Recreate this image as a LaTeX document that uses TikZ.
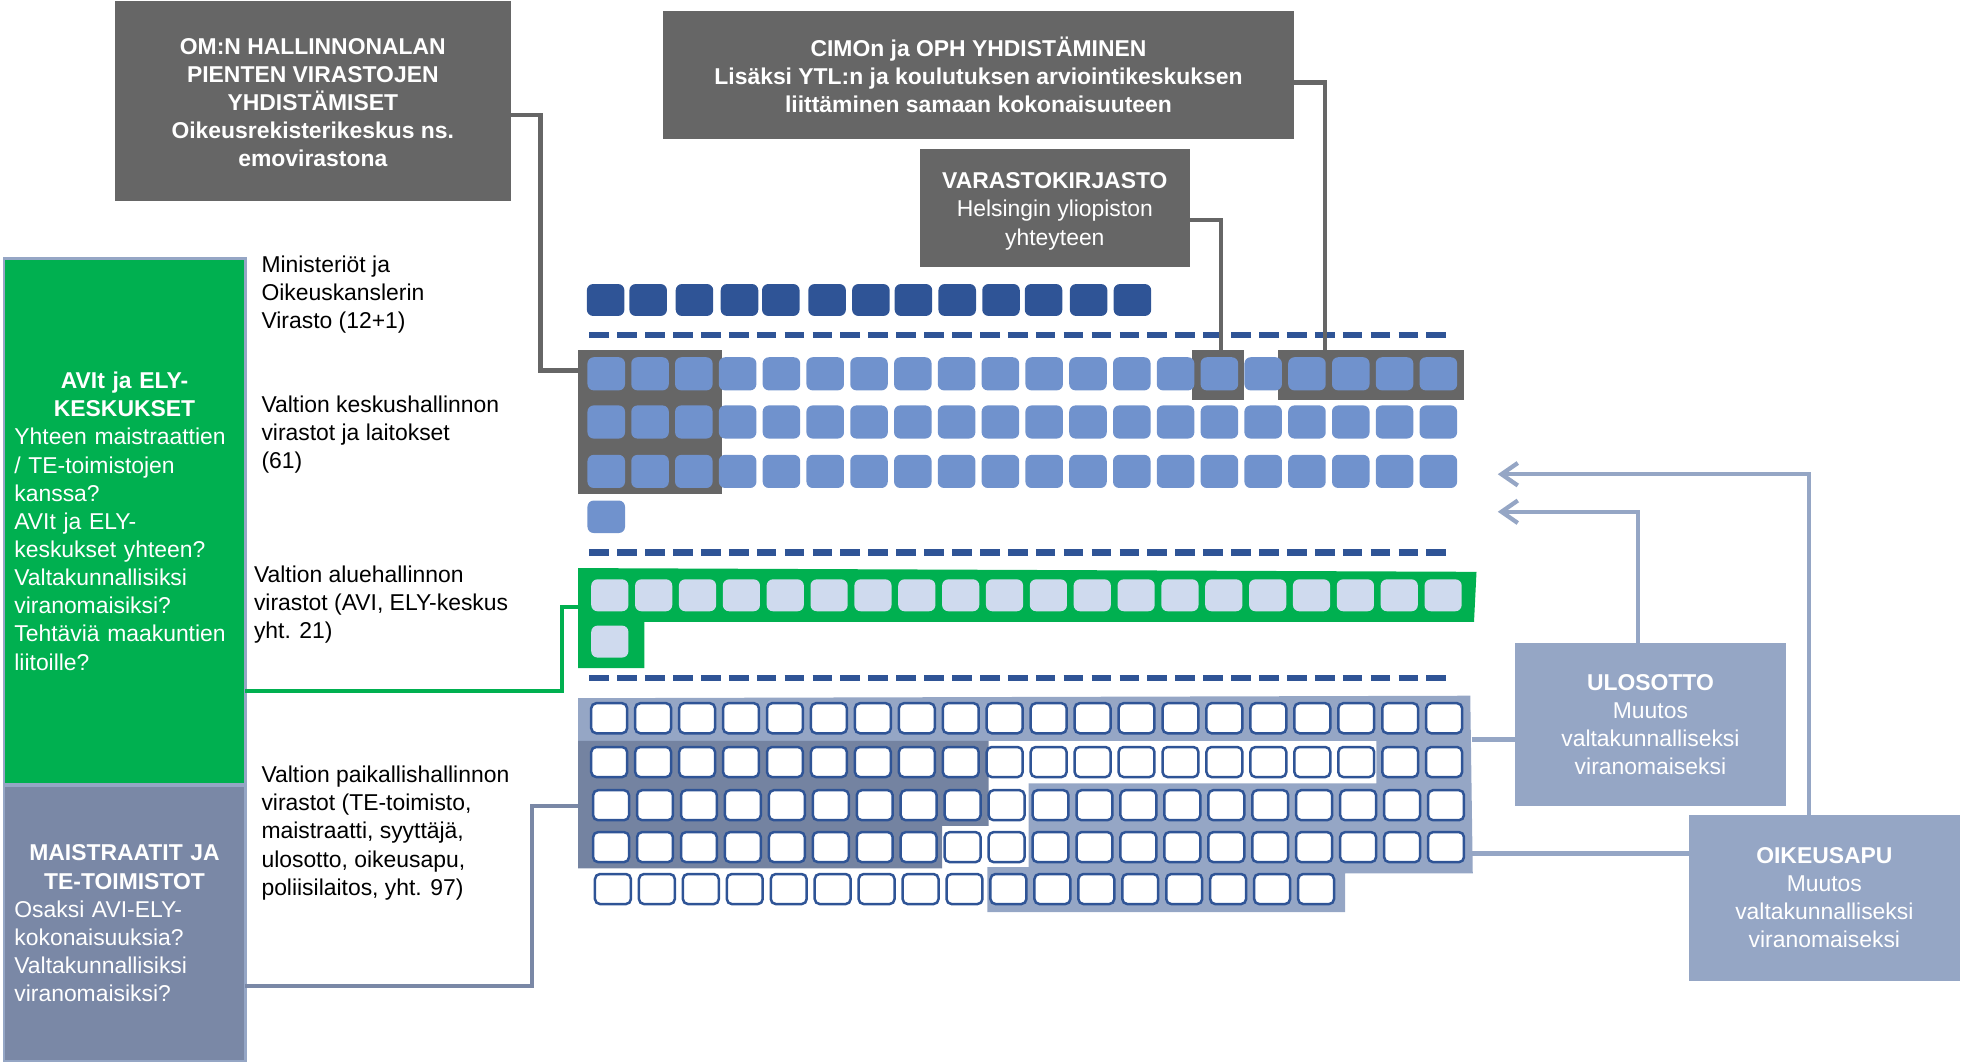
\documentclass[tikz,border=0pt]{standalone}
\usepackage{fontspec}
\setmainfont{Liberation Sans}
\usetikzlibrary{arrows.meta}
\definecolor{boxgray}{RGB}{102,102,102}
\definecolor{dblue}{RGB}{47,84,150}
\definecolor{mblue}{RGB}{112,146,205}
\definecolor{pblue}{RGB}{207,218,238}
\definecolor{avigreen}{RGB}{0,176,80}
\definecolor{slate}{RGB}{149,166,197}
\definecolor{dslate}{RGB}{116,131,161}
\definecolor{mslate}{RGB}{122,136,166}
\newcommand{\fsz}{\fontsize{18.3}{22.5}\selectfont}
\begin{document}
\begin{tikzpicture}[x=1pt,y=-1pt,
  gbox/.style={fill=boxgray, text=white, font=\fsz\bfseries, align=center, inner sep=0pt, outer sep=0pt},
  sbox/.style={fill=slate, text=white, font=\fsz, align=center, inner sep=0pt, outer sep=0pt},
  lbox/.style={draw=slate, line width=2pt, text=white, font=\fsz, inner sep=0pt, outer sep=0pt,
     minimum width=193pt, text width=176pt, align=left},
  lbl/.style={font=\fsz, anchor=base west, inner sep=0pt, outer sep=0pt},
  grpbox/.style={fill=boxgray, inner sep=0pt, outer sep=0pt, anchor=north west},
  conn/.style={draw=boxgray, line width=3.5pt},
  gconn/.style={draw=avigreen, line width=3pt},
  mconn/.style={draw=mslate, line width=3.5pt},
  sconn/.style={draw=slate, line width=3.4pt},
  sep/.style={draw=dblue, line width=5pt, dash pattern=on 15.7pt off 6.6pt},
  dsq/.style={fill=dblue, rounded corners=5pt},
  msq/.style={fill=mblue, rounded corners=5pt},
  psq/.style={fill=pblue, rounded corners=5pt},
  lsq/.style={draw=dblue, fill=white, line width=2pt, rounded corners=4pt},
  arr/.style={-{Straight Barb[length=13pt,width=18pt]}}
]
\useasboundingbox (0,0) rectangle (1568,850);

% ---- top grey boxes
\node[gbox, minimum width=316pt, minimum height=160pt] (om) at (250,81)
  {\rule{0pt}{15pt}OM:N HALLINNONALAN\\PIENTEN VIRASTOJEN\\YHDISTÄMISET\\Oikeusrekisterikeskus ns.\\emovirastona};
\node[gbox, minimum width=504pt, minimum height=102pt] (cimo) at (782,60)
  {CIMOn ja OPH YHDISTÄMINEN\\Lisäksi YTL:n ja koulutuksen arviointikeskuksen\\liittäminen samaan kokonaisuuteen};
\node[gbox, font=\fsz, minimum width=216pt, minimum height=94pt] (varasto) at (843,166)
  {\rule{0pt}{18.5pt}\textbf{VARASTOKIRJASTO}\\Helsingin yliopiston\\yhteyteen};

% ---- left boxes
\node[lbox, fill=avigreen, minimum height=420pt] (avi) at (99.5,416.5)
  {\setlength\parindent{0pt}{\centering\bfseries AVIt ja ELY-\\KESKUKSET\par}Yhteen maistraattien\\/ TE-toimistojen\\kanssa?\\AVIt ja ELY-\\keskukset yhteen?\\Valtakunnallisiksi\\viranomaisiksi?\\Tehtäviä maakuntien\\liitoille?};
\node[lbox, fill=mslate, minimum height=220pt] (mais) at (99.5,738)
  {\setlength\parindent{0pt}{\centering\bfseries MAISTRAATIT JA\\TE-TOIMISTOT\par}Osaksi AVI-ELY-\\kokonaisuuksia?\\Valtakunnallisiksi\\viranomaisiksi?};

% ---- middle labels
\node[lbl] (lmin) at (209,217.5) {\begin{tabular}[t]{@{}l@{}}Ministeriöt ja\\Oikeuskanslerin\\Virasto (12+1)\end{tabular}};
\node[lbl] (lkes) at (209,329.5) {\begin{tabular}[t]{@{}l@{}}Valtion keskushallinnon\\virastot ja laitokset\\(61)\end{tabular}};
\node[lbl] (lalu) at (203,465.5) {\begin{tabular}[t]{@{}l@{}}Valtion aluehallinnon\\virastot (AVI, ELY-keskus\\yht. 21)\end{tabular}};
\node[lbl] (lpai) at (209,625.5) {\begin{tabular}[t]{@{}l@{}}Valtion paikallishallinnon\\virastot (TE-toimisto,\\maistraatti, syyttäjä,\\ulosotto, oikeusapu,\\poliisilaitos, yht. 97)\end{tabular}};

% ---- ministries row
\foreach \xx in {469,503,540,576,609,646,681,715,750,785,819,855,890}
  \fill[dsq] (\xx,227) rectangle ++(30,25.5);
\draw[sep] (471,268) -- (1156,268);

% ---- central administration
\node[grpbox, minimum width=115pt, minimum height=115pt] (grp3) at (462,280) {};
\node[grpbox, minimum width=41pt, minimum height=40pt] (grp1) at (953,280) {};
\node[grpbox, minimum width=149pt, minimum height=40pt] (grp4) at (1021,280) {};
\foreach \yy in {285.5,324,363.5}
  \foreach \i in {0,...,19}
    \fill[msq] ({469.5+35.0*\i},\yy) rectangle ++(30,26.5);
\fill[msq] (469.5,400) rectangle ++(30,26);
\draw[sep] (471,441.5) -- (1156,441.5);

% ---- regional administration
\fill[avigreen] (462,454) -- (1180,457) -- (1178,497) -- (515,497) -- (515,534) -- (462,534) -- cycle;
\coordinate (greenin) at (462,485);
\foreach \i in {0,...,19}
  \fill[psq] ({472.5+35.05*\i},463) rectangle ++(29.7,25.5);
\fill[psq] (472.5,500) rectangle ++(29.7,25.5);
\draw[sep] (471,542) -- (1156,542);

% ---- local administration
\fill[slate] (462,558) -- (1175,556) -- (1177,698) -- (1075,698) -- (1075,729) -- (789,729)
  -- (789,693) -- (822,693) -- (822,626) -- (1100,626) -- (1100,592) -- (462,592) -- cycle;
\fill[dslate] (462,592) -- (790,592) -- (790,660) -- (753,660) -- (753,694) -- (462,694) -- cycle;
\coordinate (localin) at (462,644);
\coordinate (locout1) at (1176,591);
\coordinate (locout2) at (1176,682);
\foreach \yy/\dx/\n in {562/0/19, 597/0/19, 631.5/1.5/19, 665/1.5/19, 698.5/3/16}
  \foreach \i in {0,...,\n}
    \draw[lsq] ({472.5+\dx+35.12*\i},\yy) rectangle ++(28.7,24);

% ---- right boxes
\node[sbox, minimum width=216pt, minimum height=130pt] (ulos) at (1319,579)
  {\textbf{ULOSOTTO}\\Muutos\\valtakunnalliseksi\\viranomaiseksi};
\node[sbox, minimum width=216pt, minimum height=133pt] (oik) at (1458,717.5)
  {\textbf{OIKEUSAPU}\\Muutos\\valtakunnalliseksi\\viranomaiseksi};
\coordinate (arr1) at (1197,409);
\coordinate (arr2) at (1197,379);

% ---- connectors
\draw[conn] ([yshift=-11pt]om.east) -- ++(24,0) |- ([yshift=41.5pt]grp3.west);
\draw[conn] ([yshift=-6pt]cimo.east) -| ([xshift=-36.5pt]grp4.north);
\draw[conn] ([yshift=-10pt]varasto.east) -| ([xshift=2.5pt]grp1.north);
\draw[gconn] ([yshift=-135.5pt]avi.east) -- ++(253,0) |- (greenin);
\draw[mconn] ([yshift=-50pt]mais.east) -- ++(229,0) |- (localin);
\draw[sconn] (locout1) -- ([yshift=-12pt]ulos.west);
\draw[sconn] (locout2) -- ([yshift=35.5pt]oik.west);
\draw[sconn, arr] ([xshift=-10pt]ulos.north) |- (arr1);
\draw[sconn, arr] ([xshift=-12.5pt]oik.north) |- (arr2);
\end{tikzpicture}
\end{document}
